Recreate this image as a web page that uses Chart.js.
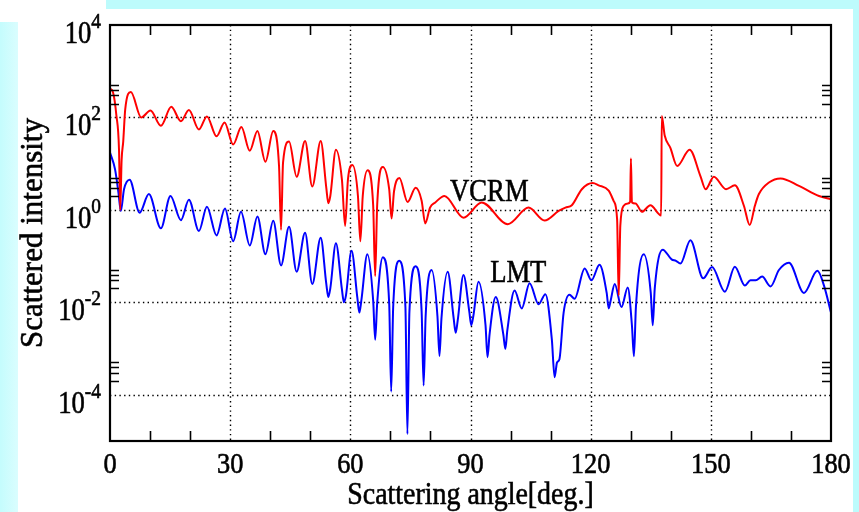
<!DOCTYPE html>
<html>
<head>
<meta charset="utf-8">
<script src="https://cdn.jsdelivr.net/npm/chart.js@4/dist/chart.umd.min.js"></script>
<style>
  html, body { margin:0; padding:0; background:#ffffff; }
  #wrap { position:relative; width:859px; height:512px; overflow:hidden; background:#ffffff; }
  .cy { position:absolute; background:#bdfbfc; }
  #c { position:absolute; left:0; top:0; }
</style>
</head>
<body>
<div id="wrap">
  <div class="cy" style="left:106px;top:0;width:753px;height:9px;"></div>
  <div class="cy" style="left:853px;top:0;width:6px;height:512px;"></div>
  <div class="cy" style="left:0;top:22px;width:18px;height:490px;background:linear-gradient(to right,#c4fcfd,#dafdfe);"></div>
  <canvas id="c" width="859" height="512"></canvas>
</div>
<script>
// ---- data ----
const angleVCRM = [0,0.75,1.6,2.25,2.55,2.9,3.3,3.8,5.2,7.8,10.1,12.7,15.3,17.7,19.7,22.2,24.2,26.6,28.6,30.75,32.8,34.9,36.8,38.8,40.75,42.2,42.7,43.2,44.7,46.6,48.7,50.5,52.6,54.0,54.5,55.0,56.4,57.9,58.7,59.4,60.5,61.9,62.5,63.1,64.3,65.7,66.2,66.7,68.1,69.7,70.3,70.9,72.25,74.3,76.3,77.8,78.7,79.9,81.2,83.5,88.25,92.8,99.3,104.5,108.5,112,113.7,115.3,117.8,120.5,122,124.5,125.75,126.6,127,127.4,128.25,129.3,129.85,130.05,130.3,131.2,132.8,134.9,137.6,137.75,138.5,139.9,141.6,144.7,147.4,148.7,150.75,153.8,156,158.25,159.7,161,162,164.5,167.4,172,177,180];
const valVCRM = [420,350,110,20,1.0,12,30,150,355,100,141,66,170,83,145,55,105,39,78,26,62,19,51,11,51,8.9,0.37,10.5,30,5.2,31,3.2,31,3.0,1.4,2.0,20,4.5,0.45,4.5,9.3,2.0,0.21,2.0,7.2,1.26,0.037,1.26,8.5,2.8,0.65,2.5,4.9,1.48,3.0,1.58,0.51,1.12,1.45,2.0,0.68,1.45,0.49,1.12,0.59,0.95,1.12,1.26,2.8,3.8,3.4,2.6,1.55,0.63,0.014,0.45,1.23,1.38,1.5,12.9,1.45,1.38,0.91,1.26,0.76,107,40,22,8.9,20,5.4,2.8,5.2,2.8,3.4,1.23,0.47,1.23,2.2,3.9,4.8,3.3,2.0,1.7];

const angleLMT = [0,1.25,2.1,2.7,3.5,4.9,7.4,9.7,12.7,15.1,17.7,19.7,22.2,24.2,26.6,28.7,30.75,32.7,34.9,36.8,38.8,40.75,42.7,44.7,46.6,48.7,50.5,52.6,54.0,54.5,55.0,56.4,57.9,58.4,58.9,60.3,61.75,62.25,62.75,64.25,65.7,66.2,66.7,68.1,69.7,70.2,70.7,72.2,73.75,74.25,74.75,76.3,77.8,78.3,78.8,80.3,81.75,82.25,82.75,84.3,85.8,86.3,86.8,88.25,89.7,90.2,90.7,92,93.75,94.25,94.75,96.3,98.2,98.7,99.2,101,102.8,104.75,107,108.7,110.3,111,111.6,112.2,113.25,114.7,116,118.5,120.2,122.2,124.0,124.5,125.0,126,127.7,129.25,130.3,130.8,131.3,133.25,135.0,135.5,136.0,138,140.2,141.3,142.4,144.9,148.1,150.3,153.5,156,158.5,159.9,161.2,162.8,164.9,167,169.5,173.25,176.6,178.25,180];
const valLMT = [17.4,7.6,2.4,0.95,2.8,4.5,0.87,2.2,0.40,2.0,0.60,1.66,0.35,1.17,0.28,1.07,0.21,0.91,0.17,0.72,0.11,0.58,0.063,0.43,0.046,0.32,0.025,0.25,0.025,0.013,0.020,0.19,0.019,0.010,0.014,0.13,0.0126,0.006,0.011,0.11,0.011,0.00155,0.0095,0.095,0.0095,0.000117,0.008,0.079,0.008,0.0000141,0.0063,0.060,0.0063,0.000158,0.005,0.050,0.005,0.00069,0.0045,0.046,0.0045,0.0022,0.004,0.039,0.0063,0.0032,0.005,0.028,0.0032,0.00065,0.002,0.013,0.002,0.00098,0.0025,0.018,0.0074,0.026,0.0091,0.015,0.0016,0.00024,0.0005,0.00059,0.006,0.0145,0.012,0.054,0.030,0.065,0.016,0.0074,0.011,0.025,0.0079,0.021,0.0032,0.00068,0.008,0.11,0.016,0.0032,0.02,0.138,0.085,0.079,0.069,0.22,0.033,0.058,0.017,0.059,0.023,0.030,0.030,0.036,0.022,0.05,0.072,0.016,0.048,0.023,0.006];

const xTickLabels = [0,30,60,90,120,150,180];
const xMinorTicks = [10,20,40,50,70,80,100,110,130,140,160,170];
const xGridValues = [30,60,90,120,150];
const yTickExponents = [4,2,0,-2,-4];
const yGridExponents = [2,0,-2,-4];
const yMinorMultipliers = [2,3,4,5];
const seriesNames = ['VCRM','LMT'];
const seriesLabelAt = [{x:84.9, y:1.55}, {x:94.9, y:0.027}];
const xTitle = 'Scattering angle[deg.]';
const yTitle = 'Scattered intensity';

const FONT = '"Liberation Serif", "Times New Roman", serif';

function sText(ctx, s, x, y, size, align, sx) {
  ctx.save();
  ctx.translate(x, y);
  ctx.scale(sx, 1);
  ctx.font = size + 'px ' + FONT;
  ctx.textAlign = align;
  ctx.textBaseline = 'alphabetic';
  ctx.fillStyle = '#000';
  ctx.strokeStyle = '#000';
  ctx.lineWidth = 0.6;
  ctx.fillText(s, 0, 0);
  ctx.strokeText(s, 0, 0);
  ctx.restore();
}
function sWidth(ctx, s, size, sx) {
  ctx.save();
  ctx.font = size + 'px ' + FONT;
  const w = ctx.measureText(s).width * sx;
  ctx.restore();
  return w;
}

const decor = {
  id: 'decor',
  beforeDatasetsDraw(chart) {
    const {ctx, chartArea: a, scales: {x, y}} = chart;
    ctx.save();
    ctx.strokeStyle = '#000';
    ctx.lineWidth = 1.4;
    ctx.setLineDash([1.4, 3.3]);
    for (const v of xGridValues) {
      const px = Math.round(x.getPixelForValue(v)) + 0.5;
      ctx.beginPath(); ctx.moveTo(px, a.top); ctx.lineTo(px, a.bottom); ctx.stroke();
    }
    for (const e of yGridExponents) {
      const py = Math.round(y.getPixelForValue(Math.pow(10, e))) + 0.5;
      ctx.beginPath(); ctx.moveTo(a.left, py); ctx.lineTo(a.right, py); ctx.stroke();
    }
    ctx.restore();
  },
  afterDatasetsDraw(chart) {
    const {ctx, chartArea: a, scales: {x, y}} = chart;
    ctx.save();
    ctx.strokeStyle = '#000';
    ctx.setLineDash([]);
    ctx.lineWidth = 1.6;
    for (const v of xMinorTicks) {
      const px = Math.round(x.getPixelForValue(v)) + 0.5;
      ctx.beginPath();
      ctx.moveTo(px, a.bottom); ctx.lineTo(px, a.bottom - 10);
      ctx.moveTo(px, a.top); ctx.lineTo(px, a.top + 10);
      ctx.stroke();
    }
    for (const e of yGridExponents) {
      for (const m of yMinorMultipliers) {
        const py = Math.round(y.getPixelForValue(m * Math.pow(10, e))) + 0.5;
        ctx.beginPath();
        ctx.moveTo(a.left, py); ctx.lineTo(a.left + 9, py);
        ctx.moveTo(a.right, py); ctx.lineTo(a.right - 9, py);
        ctx.stroke();
      }
    }
    ctx.lineWidth = 2.2;
    ctx.strokeRect(a.left, a.top, a.right - a.left, a.bottom - a.top);
    for (const v of xTickLabels) {
      sText(ctx, String(v), x.getPixelForValue(v), a.bottom + 32, 30, 'center', 0.88);
    }
    for (const e of yTickExponents) {
      const py = y.getPixelForValue(Math.pow(10, e));
      const sup = String(e);
      const right = 101;
      const sw = sWidth(ctx, sup, 22, 0.88);
      sText(ctx, sup, right, py + 3, 22, 'right', 0.88);
      sText(ctx, '10', right - sw, py + 18, 31, 'right', 0.86);
    }
    sText(ctx, xTitle, (a.left + a.right) / 2, 504, 31, 'center', 0.9);
    ctx.save();
    ctx.translate(42, (a.top + a.bottom) / 2);
    ctx.rotate(-Math.PI / 2);
    ctx.font = '31px ' + FONT;
    ctx.textAlign = 'center';
    ctx.textBaseline = 'alphabetic';
    ctx.fillStyle = '#000';
    ctx.strokeStyle = '#000';
    ctx.lineWidth = 0.6;
    ctx.fillText(yTitle, 0, 0);
    ctx.strokeText(yTitle, 0, 0);
    ctx.restore();
    seriesNames.forEach((n, i) => {
      const p = seriesLabelAt[i];
      sText(ctx, n, x.getPixelForValue(p.x), y.getPixelForValue(p.y), 31, 'left', 0.86);
    });
    ctx.restore();
  }
};

const mk = (ang, val) => ang.map((a, i) => ({x: a, y: val[i]}));

new Chart(document.getElementById('c').getContext('2d'), {
  type: 'line',
  data: {
    datasets: [
      {label: seriesNames[0], data: mk(angleVCRM, valVCRM), borderColor: '#ff0000', borderWidth: 2,
       pointRadius: 0, fill: false, cubicInterpolationMode: 'monotone'},
      {label: seriesNames[1], data: mk(angleLMT, valLMT), borderColor: '#0000ff', borderWidth: 2,
       pointRadius: 0, fill: false, cubicInterpolationMode: 'monotone'}
    ]
  },
  options: {
    responsive: false,
    animation: false,
    layout: {padding: {left: 110, top: 25, right: 28, bottom: 71}},
    plugins: {legend: {display: false}, tooltip: {enabled: false}},
    scales: {
      x: {type: 'linear', min: 0, max: 180, display: false},
      y: {type: 'logarithmic', min: 1e-5, max: 1e4, display: false}
    }
  },
  plugins: [decor]
});
</script>
</body>
</html>
